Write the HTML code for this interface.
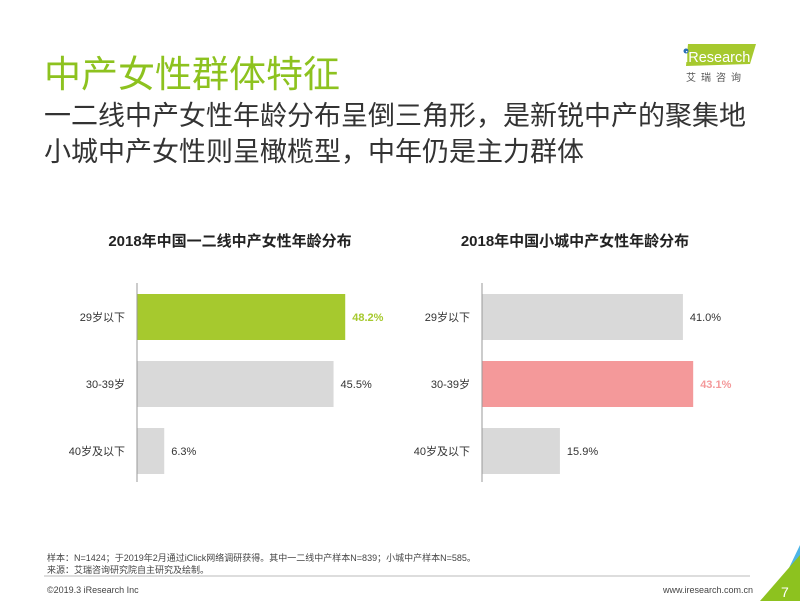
<!DOCTYPE html>
<html><head><meta charset="utf-8"><style>
body{margin:0;width:800px;height:601px;background:#fff;position:relative;overflow:hidden;font-family:"Liberation Sans","Noto Sans CJK SC",sans-serif}
.a{position:absolute;white-space:nowrap}
</style></head><body>
<div class="a" style="left:44px;top:44px;font-size:37px;color:#8dc21f">中产女性群体特征</div>
<div class="a" style="left:44px;top:94px;font-size:27px;color:#333">一二线中产女性年龄分布呈倒三角形，是新锐中产的聚集地</div>
<div class="a" style="left:44px;top:130px;font-size:27px;color:#333">小城中产女性则呈橄榄型，中年仍是主力群体</div>
<svg class="a" style="left:660px;top:38px" width="110" height="46">
<polygon points="28,6 96,6 90,26 26,28" fill="#a6c92e"/>
<circle cx="26" cy="13" r="2.5" fill="#2a6fb5"/>
<text x="25" y="24" font-size="14.5" fill="#fff" font-family="Liberation Sans">iResearch</text>
<text x="26" y="43" font-size="10" fill="#555" letter-spacing="5" font-family="Noto Sans CJK SC">艾瑞咨询</text>
</svg>
<svg class="a" style="left:0;top:0" width="800" height="601">
<g id="c1"></g><g id="c2"></g>
<line x1="44" y1="576" x2="750" y2="576" stroke="#bbb"/>
<polygon points="800,545 800,601 770,601 788,570" fill="#4db4e6"/>
<polygon points="800,555 800,601 760,601" fill="#8dc21f"/>
<text x="781" y="597" font-size="14" fill="#fff">7</text>
</svg>
<div class="a" style="left:47px;top:551px;font-size:9px;color:#444">样本：N=1424；于2019年2月通过iClick网络调研获得。其中一二线中产样本N=839；小城中产样本N=585。</div>
<div class="a" style="left:47px;top:563px;font-size:9px;color:#444">来源：艾瑞咨询研究院自主研究及绘制。</div>
<div class="a" style="left:47px;top:585px;font-size:9px;color:#444">©2019.3 iResearch Inc</div>
<div class="a" style="left:663px;top:585px;font-size:9px;color:#444">www.iresearch.com.cn</div>
<script>
const categories=["29岁以下","30-39岁","40岁及以下"];
const tier1Values=[48.2,45.5,6.3];
const smallCityValues=[41.0,43.1,15.9];
const ns="http://www.w3.org/2000/svg";
function mk(t,a,p){const e=document.createElementNS(ns,t);for(const k in a)e.setAttribute(k,a[k]);p.appendChild(e);return e;}
function chart(g,title,vals,x0,scale,hi,hiColor,name){
  const gr=document.getElementById(g);
  const t=mk('text',{x:x0+93,y:246,'font-size':15,'font-weight':'bold',fill:'#222','text-anchor':'middle'},gr);t.textContent=title;
  
  
  const yb=i=>294+i*67;
  vals.forEach((v,i)=>{
    const r=mk('rect',{x:x0,y:yb(i),width:v*scale,height:46,fill:i===hi?hiColor:'#d9d9d9'},gr);
    
    
    const l=mk('text',{x:x0-12,y:yb(i)+27,'font-size':11,fill:'#333','text-anchor':'end'},gr);l.textContent=categories[i];
    
    
    const vl=mk('text',{x:x0+v*scale+7,y:yb(i)+27,'font-size':11,fill:i===hi?hiColor:'#333','font-weight':i===hi?'bold':'normal'},gr);vl.textContent=v.toFixed(1)+'%';
    
    
  });
  const ax=mk('line',{x1:x0,y1:283,x2:x0,y2:482,stroke:'#999'},gr);
  
  
}
chart('c1','2018年中国一二线中产女性年龄分布',tier1Values,137,4.32,0,'#a6c92e','tier1-chart');
chart('c2','2018年中国小城中产女性年龄分布',smallCityValues,482,4.9,1,'#f4999a','small-city-chart');
</script>
</body></html>
